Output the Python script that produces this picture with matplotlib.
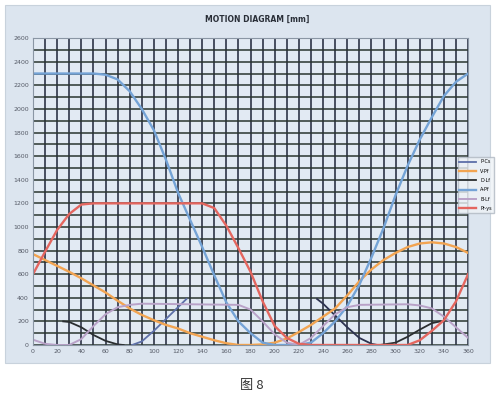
import matplotlib
matplotlib.use("Agg")
import matplotlib.pyplot as plt
from matplotlib.patches import Rectangle
from matplotlib.ticker import MultipleLocator

# crank angle (deg) / displacement (mm)
blue_x = [0, 10, 20, 30, 40, 50, 60, 70, 80, 90, 100, 110, 120, 130, 140, 150, 160, 170, 180, 190, 200,
          210, 220, 230, 240, 250, 260, 270, 280, 290, 300, 310, 320, 330, 340, 350, 360]
blue_y = [2300, 2300, 2300, 2300, 2300, 2300, 2290, 2250, 2150, 2000, 1820, 1570, 1290, 1060, 830, 590, 360, 200, 100, 20, 0,
          0, 0, 20, 100, 200, 330, 510, 740, 990, 1270, 1520, 1740, 1930, 2110, 2230, 2300]

red_x = [0, 10, 20, 30, 40, 50, 140, 150, 160, 170, 180, 190, 200, 210, 220, 230, 310, 320, 330, 340, 350, 360]
red_y = [600, 790, 975, 1110, 1190, 1200, 1200, 1160, 1010, 820, 620, 370, 160, 60, 10, 0, 0, 40, 120, 210, 370, 600]

orange_x = [0, 10, 20, 30, 40, 50, 60, 70, 80, 90, 100, 110, 120, 130, 140, 150, 160, 170, 180, 190, 200,
            210, 220, 230, 240, 250, 260, 270, 280, 290, 300, 310, 320, 330, 340, 350, 360]
orange_y = [770, 720, 670, 620, 565, 505, 445, 375, 310, 255, 210, 170, 140, 100, 70, 40, 15, 0, 0, 5, 20,
            55, 110, 170, 240, 310, 420, 540, 640, 720, 780, 830, 860, 870, 860, 830, 780]

lav_x = [0, 10, 20, 30, 40, 50, 60, 70, 80, 90, 170, 180, 190, 200, 210, 220, 230, 240, 250, 260, 270,
         310, 320, 330, 340, 350, 360]
lav_y = [45, 10, 0, 0, 50, 160, 260, 320, 340, 350, 340, 300, 200, 90, 20, 0, 60, 160, 260, 320, 340,
         345, 335, 310, 240, 150, 60]

dark_l_x = [25, 30, 40, 50, 60, 70, 75]
dark_l_y = [200, 195, 150, 85, 35, 5, 0]
dark_r_x = [287, 300, 310, 320, 330, 337]
dark_r_y = [0, 20, 70, 130, 185, 200]

slate_l_x = [82, 90, 100, 110, 120, 127]
slate_l_y = [0, 30, 120, 220, 320, 390]
slate_r_x = [235, 240, 250, 260, 270, 280, 285]
slate_r_y = [390, 350, 250, 150, 60, 10, 0]

legend_labels = ["P-Cs", "V-Pf", "D-Lf", "A-Pf", "B-Lf", "Pr-ys"]

fig = plt.figure(figsize=(4.99, 3.97), dpi=100)
fig.patch.set_facecolor("white")

# light blue panel behind the chart
panel = Rectangle((0.01, 0.086), 0.972, 0.902, transform=fig.transFigure,
                  facecolor="#dce5ef", edgecolor="#c8d2dc", lw=0.8, zorder=-5)
fig.add_artist(panel)

ax = fig.add_axes([0.0661, 0.131, 0.872, 0.773])
ax.set_facecolor("#e2eaf3")
ax.set_xlim(0, 360)
ax.set_ylim(0, 2600)
ax.xaxis.set_major_locator(MultipleLocator(20))
ax.xaxis.set_minor_locator(MultipleLocator(10))
ax.yaxis.set_major_locator(MultipleLocator(200))
ax.yaxis.set_minor_locator(MultipleLocator(100))
ax.grid(True, which="both", axis="x", color="#1e2438", lw=1.1)
ax.grid(True, which="both", axis="y", color="#2a352e", lw=1.1)
ax.set_axisbelow(True)
ax.tick_params(which="both", length=0, labelsize=4.5, labelcolor="#555a66", pad=3)
for s in ax.spines.values():
    s.set_color("#8a96a4")
    s.set_linewidth(0.8)

h_slate, = ax.plot(slate_l_x, slate_l_y, color="#5d6fa8", lw=1.3)
ax.plot(slate_r_x, slate_r_y, color="#2d3350", lw=1.3)
h_orange, = ax.plot(orange_x, orange_y, color="#f2a451", lw=1.7)
h_dark, = ax.plot(dark_l_x, dark_l_y, color="#2a2e30", lw=1.3)
ax.plot(dark_r_x, dark_r_y, color="#2a2e30", lw=1.3)
h_blue, = ax.plot(blue_x, blue_y, color="#74a3d6", lw=1.7)
h_lav, = ax.plot(lav_x, lav_y, color="#b9a2c8", lw=1.4)
h_red, = ax.plot(red_x, red_y, color="#e4665f", lw=1.7)

fig.legend([h_slate, h_orange, h_dark, h_blue, h_lav, h_red], legend_labels,
           loc="upper left", bbox_to_anchor=(0.912, 0.61), bbox_transform=fig.transFigure,
           fontsize=3.5, handlelength=3.5, labelspacing=0.9, frameon=True,
           facecolor="#eef2f6", edgecolor="#b0b8c2", fancybox=False, borderpad=0.4)

fig.text(0.515, 0.95, "MOTION DIAGRAM [mm]", ha="center", va="center",
         fontsize=5.5, fontweight="bold", color="#2a2f38")
fig.text(0.505, 0.028, "图 8", ha="center", va="center", fontsize=9.5, color="#333",
         family=["Noto Sans CJK SC", "DejaVu Sans"])

fig.savefig("out.png", dpi=100)
